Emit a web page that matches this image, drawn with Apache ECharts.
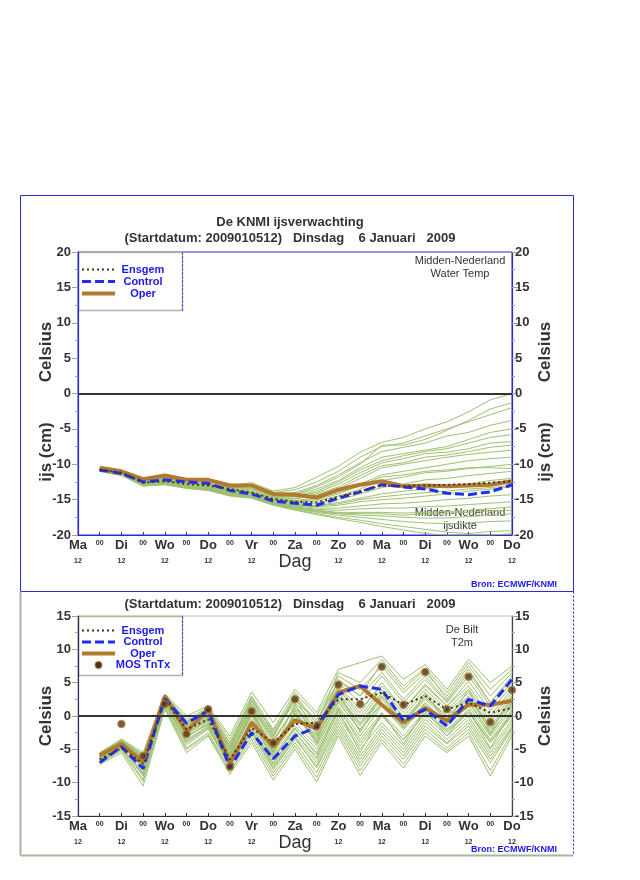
<!DOCTYPE html>
<html><head><meta charset="utf-8">
<script src="https://cdn.jsdelivr.net/npm/echarts@6/dist/echarts.min.js"></script>
<style>html,body{margin:0;padding:0;background:#fff}#c{width:640px;height:880px}</style>
</head><body><div id="c"></div>
<script>
// x categories (12-hourly steps)
const dayLabels = ['Ma','00','Di','00','Wo','00','Do','00','Vr','00','Za','00','Zo','00','Ma','00','Di','00','Wo','00','Do'];
const yTicksTop = [-20,-15,-10,-5,0,5,10,15,20];
const yTicksBottom = [-15,-10,-5,0,5,10,15];

// ---- top chart: ice thickness (values for steps 1..20) ----
const iceEnsgem  = [-10.8,-11.2,-12.6,-12.4,-12.8,-13.0,-13.5,-14.0,-14.9,-15.3,-15.4,-14.6,-13.8,-13.0,-13.1,-13.0,-12.9,-12.8,-12.6,-12.4];
const iceControl = [-10.8,-11.3,-12.5,-12.2,-12.5,-12.7,-13.7,-14.2,-15.2,-15.5,-15.8,-14.8,-13.9,-12.9,-13.2,-13.5,-14.1,-14.3,-13.9,-12.9];
const iceOper    = [-10.5,-11.0,-12.1,-11.6,-12.2,-12.2,-13.0,-13.0,-14.2,-14.3,-14.7,-13.6,-12.9,-12.4,-13.1,-13.0,-13.1,-13.0,-12.9,-12.4];
const iceM01 = [-10.6,-11.0,-12.0,-11.6,-12.1,-12.3,-13.0,-12.6,-13.8,-13.3,-11.8,-10.3,-8.3,-6.9,-6.2,-5.0,-4.0,-2.6,-0.9,0.0];
const iceM02 = [-10.7,-11.1,-12.2,-11.8,-12.3,-12.4,-13.1,-13.0,-14.0,-13.6,-12.5,-11.0,-9.0,-7.5,-7.0,-6.0,-5.0,-4.0,-3.0,-2.0];
const iceM03 = [-10.7,-11.2,-12.3,-11.9,-12.5,-12.6,-13.3,-13.2,-14.2,-14.0,-13.0,-11.5,-9.8,-8.2,-7.6,-7.0,-6.0,-5.5,-4.5,-3.8];
const iceM04 = [-10.8,-11.2,-12.4,-12.0,-12.6,-12.8,-13.5,-13.5,-14.5,-14.3,-13.5,-12.3,-10.5,-9.0,-8.5,-8.0,-7.5,-6.5,-5.5,-5.0];
const iceM05 = [-10.8,-11.3,-12.5,-12.1,-12.7,-12.9,-13.6,-13.8,-14.7,-14.6,-14.0,-12.8,-11.2,-9.8,-9.2,-8.5,-8.3,-7.8,-7.0,-6.8];
const iceM06 = [-10.7,-11.2,-12.4,-12.2,-12.7,-13.0,-13.7,-14.0,-14.9,-14.9,-14.4,-13.5,-12.0,-10.5,-10.0,-9.5,-9.0,-8.6,-8.3,-8.0];
const iceM07 = [-10.8,-11.3,-12.6,-12.3,-12.8,-13.1,-13.8,-14.1,-15.0,-15.1,-14.8,-14.0,-12.8,-11.5,-11.0,-10.5,-10.0,-9.5,-9.2,-9.0];
const iceM08 = [-10.9,-11.4,-12.6,-12.4,-12.9,-13.1,-13.9,-14.2,-15.1,-15.3,-15.2,-14.5,-13.5,-12.3,-11.8,-11.2,-11.0,-10.6,-10.3,-10.0];
const iceM09 = [-10.8,-11.3,-12.7,-12.4,-13.0,-13.2,-14.0,-14.3,-15.2,-15.5,-15.5,-15.0,-14.2,-13.3,-12.8,-12.2,-12.0,-11.6,-11.3,-11.0];
const iceM10 = [-10.9,-11.4,-12.7,-12.5,-13.0,-13.3,-14.1,-14.4,-15.3,-15.6,-15.8,-15.4,-14.8,-14.2,-13.8,-13.5,-13.2,-12.8,-12.3,-12.0];
const iceM11 = [-10.8,-11.4,-12.8,-12.5,-13.1,-13.3,-14.1,-14.4,-15.4,-15.8,-16.0,-15.8,-15.3,-15.0,-14.8,-14.5,-14.2,-13.8,-13.5,-13.2];
const iceM12 = [-10.9,-11.5,-12.8,-12.6,-13.1,-13.4,-14.2,-14.5,-15.5,-15.9,-16.2,-16.2,-15.9,-15.6,-15.5,-15.3,-15.0,-14.8,-14.5,-14.3];
const iceM13 = [-10.9,-11.4,-12.9,-12.7,-13.2,-13.5,-14.2,-14.5,-15.5,-16.0,-16.4,-16.5,-16.3,-16.2,-16.2,-16.0,-15.9,-15.7,-15.5,-15.3];
const iceM14 = [-10.9,-11.5,-12.9,-12.7,-13.2,-13.5,-14.3,-14.6,-15.6,-16.1,-16.5,-16.8,-16.8,-16.8,-16.9,-16.8,-16.7,-16.5,-16.3,-16.0];
const iceM15 = [-11.0,-11.5,-13.0,-12.8,-13.3,-13.6,-14.3,-14.6,-15.6,-16.2,-16.7,-17.0,-17.2,-17.3,-17.5,-17.6,-17.6,-17.4,-17.2,-17.0];
const iceM16 = [-11.0,-11.5,-13.0,-12.8,-13.3,-13.6,-14.4,-14.7,-15.7,-16.3,-16.8,-17.2,-17.5,-17.8,-18.1,-18.3,-18.4,-18.3,-18.1,-18.0];
const iceM17 = [-10.9,-11.5,-13.0,-12.8,-13.4,-13.7,-14.4,-14.7,-15.7,-16.4,-17.0,-17.5,-17.9,-18.4,-18.8,-19.2,-19.6,-19.8,-19.5,-19.4];
const iceM18 = [-11.0,-11.6,-13.1,-12.9,-13.4,-13.7,-14.5,-14.8,-15.8,-16.5,-17.1,-17.7,-18.2,-18.8,-19.3,-19.8,-20.0,-20.0,-20.0,-19.8];
const iceM19 = [-10.7,-11.1,-12.3,-12.0,-12.5,-12.7,-13.3,-13.4,-14.4,-14.2,-13.2,-11.8,-10.0,-7.3,-7.3,-6.5,-5.2,-3.8,-2.2,-1.3];
const iceM20 = [-10.8,-11.3,-12.5,-12.2,-12.7,-12.9,-13.6,-13.9,-14.8,-14.8,-14.2,-13.2,-11.6,-10.2,-9.8,-9.0,-8.7,-8.2,-7.6,-7.3];
const iceM21 = [-10.8,-11.3,-12.6,-12.3,-12.9,-13.1,-13.8,-14.1,-15.0,-15.2,-15.0,-14.2,-13.0,-11.8,-11.5,-11.0,-10.8,-10.5,-10.5,-10.6];
const iceM22 = [-10.9,-11.4,-12.8,-12.5,-13.1,-13.3,-14.1,-14.4,-15.4,-15.7,-15.9,-15.6,-15.0,-14.6,-14.3,-14.0,-13.8,-13.5,-13.3,-13.0];
const iceM23 = [-10.9,-11.5,-12.9,-12.7,-13.2,-13.5,-14.3,-14.6,-15.6,-16.1,-16.6,-16.9,-17.0,-17.0,-17.2,-17.0,-16.9,-16.8,-16.6,-16.5];
const iceM24 = [-10.7,-11.2,-12.4,-12.1,-12.6,-12.8,-13.4,-13.6,-14.6,-14.5,-13.8,-12.5,-10.8,-9.5,-8.8,-8.2,-7.8,-7.0,-6.2,-5.8];
const iceMembers = [iceM01,iceM02,iceM03,iceM04,iceM05,iceM06,iceM07,iceM08,iceM09,iceM10,iceM11,iceM12,iceM13,iceM14,iceM15,iceM16,iceM17,iceM18,iceM19,iceM20,iceM21,iceM22,iceM23,iceM24];

// ---- bottom chart: T2m De Bilt (values for steps 1..20) ----
const t2mEnsgem  = [-6.5,-4.8,-7.2,2.5,-2.0,-0.5,-6.5,-1.8,-4.0,-1.2,-1.0,2.5,2.5,3.5,1.7,3.0,1.0,2.0,0.5,1.2];
const t2mControl = [-7.0,-4.6,-7.9,2.6,-1.1,0.8,-7.8,-2.5,-6.4,-3.0,-1.7,3.2,4.5,4.0,-0.7,1.0,-1.5,2.5,1.5,5.5];
const t2mOper    = [-5.9,-4.2,-6.9,3.0,-2.3,1.0,-7.1,-1.0,-4.6,-0.6,-1.9,3.5,4.5,1.7,-1.0,1.2,-0.7,1.7,1.7,2.3];
const mosTnTx    = [null,-1.2,-6.0,1.8,-2.7,1.0,-7.6,0.7,-4.0,2.5,-1.5,4.7,1.8,7.4,1.7,6.6,1.0,5.9,-0.9,3.9];
const t2mM01 = [-7.3,-5.5,-10.5,1.0,-5.5,-3.0,-8.7,-4.0,-9.6,-5.0,-9.9,-3.0,-8.9,-4.0,-7.8,-3.0,-5.5,-3.0,-9.0,-3.0];
const t2mM02 = [-7.0,-5.0,-9.5,1.5,-4.8,-2.5,-8.0,-3.0,-8.5,-4.0,-8.5,-2.0,-7.5,-3.0,-6.5,-2.0,-4.8,-2.0,-7.0,-2.0];
const t2mM03 = [-6.8,-4.5,-8.8,2.0,-4.0,-1.8,-7.3,-2.0,-7.5,-3.0,-7.0,-0.5,-6.0,-1.5,-5.0,-0.5,-3.5,-0.5,-5.5,-1.0];
const t2mM04 = [-6.5,-4.2,-8.0,2.3,-3.2,-1.0,-6.5,-1.0,-6.5,-2.0,-5.5,0.5,-4.5,0.0,-3.5,0.5,-2.5,0.5,-4.0,0.0];
const t2mM05 = [-6.3,-4.0,-7.5,2.6,-2.5,-0.5,-6.0,0.0,-5.5,-1.0,-4.5,1.5,-3.0,1.5,-2.0,1.5,-1.5,1.5,-3.0,1.0];
const t2mM06 = [-6.0,-3.8,-7.0,2.8,-2.0,0.0,-5.5,0.8,-4.5,0.0,-3.5,2.5,-1.5,2.5,-1.0,2.5,-0.5,2.5,-2.0,2.0];
const t2mM07 = [-5.8,-3.6,-6.5,3.0,-1.5,0.5,-4.8,1.5,-3.5,1.0,-2.5,3.5,-0.5,3.5,0.0,3.5,0.5,3.5,-1.0,3.0];
const t2mM08 = [-5.6,-3.5,-6.0,3.2,-0.8,1.0,-4.0,2.5,-2.5,2.0,-1.5,4.5,1.0,4.5,1.0,4.5,1.5,4.5,0.0,4.0];
const t2mM09 = [-5.5,-3.5,-5.5,3.3,0.0,1.5,-3.0,3.6,-1.0,4.0,0.5,7.0,8.0,9.0,5.5,7.7,4.0,8.5,5.0,7.5];
const t2mM10 = [-6.6,-4.3,-7.8,2.5,-2.8,-0.8,-6.8,-0.5,-6.0,-1.5,-5.0,1.0,-3.5,0.5,-3.0,0.8,-2.0,1.0,-3.5,0.5];
const t2mM11 = [-6.2,-3.9,-7.2,2.7,-2.2,-0.2,-5.8,0.5,-5.0,0.5,-3.0,3.0,-1.0,3.0,-0.5,3.0,0.0,3.0,-1.5,2.5];
const t2mM12 = [-5.9,-3.7,-6.8,2.9,-1.8,0.3,-5.2,1.2,-4.0,1.5,-2.0,4.0,0.0,4.0,0.5,4.0,1.0,4.0,-0.5,3.5];
const t2mM13 = [-6.0,-3.8,-6.2,3.1,-1.0,0.8,-4.5,2.0,-3.0,2.5,-1.0,5.0,2.0,6.0,2.0,5.5,2.0,6.0,1.5,5.0];
const t2mM14 = [-5.7,-3.6,-5.8,3.2,-0.5,1.2,-3.5,3.0,-2.0,3.5,0.0,6.0,4.0,7.5,3.5,6.5,3.0,7.5,3.0,6.5];
const t2mM15 = [-6.9,-4.8,-9.0,1.8,-4.3,-2.0,-7.6,-2.5,-8.0,-3.5,-7.5,-1.0,-6.5,-2.0,-5.5,-1.0,-4.0,-1.0,-6.0,-1.5];
const t2mM16 = [-6.4,-4.1,-7.6,2.4,-3.0,-1.3,-6.3,-1.5,-7.0,-2.5,-6.5,0.0,-5.0,-1.0,-4.5,0.0,-3.0,0.0,-5.0,-0.5];
const t2mM17 = [-5.8,-3.7,-6.6,2.9,-1.2,0.6,-5.0,1.8,-3.2,2.8,-2.8,5.5,3.0,8.0,4.0,7.0,2.5,7.0,2.0,6.0];
const t2mM18 = [-6.1,-3.9,-7.0,2.6,-2.4,0.2,-6.2,0.2,-5.8,0.8,-4.0,2.0,-2.0,2.0,-1.5,2.0,-1.0,2.0,-2.5,1.5];
const t2mM19 = [-7.1,-5.2,-9.8,1.2,-5.0,-2.8,-8.3,-3.5,-9.0,-4.5,-9.2,-2.5,-8.2,-3.5,-7.2,-2.5,-5.2,-2.5,-8.2,-2.5];
const t2mM20 = [-6.7,-4.6,-8.5,2.1,-3.6,-1.5,-7.0,-1.5,-7.2,-2.5,-6.2,0.8,-5.5,0.5,-4.2,1.0,-3.0,1.0,-4.8,0.8];
const t2mM21 = [-6.2,-4.0,-7.3,2.6,-2.6,-0.6,-6.0,1.0,-5.2,1.8,-3.8,3.8,-2.5,3.5,-1.8,3.5,-1.0,4.0,-2.5,3.0];
const t2mM22 = [-5.9,-3.7,-6.4,3.0,-1.4,0.7,-4.6,2.8,-2.8,3.2,-1.2,6.5,5.0,8.5,4.5,7.2,3.5,8.0,4.0,7.0];
const t2mM23 = [-6.0,-3.9,-6.9,2.7,-2.1,0.1,-5.6,0.4,-4.6,0.2,-3.2,2.8,-1.2,2.8,-0.8,2.8,-0.2,2.8,-1.8,2.2];
const t2mM24 = [-6.4,-4.2,-7.9,2.4,-3.1,-1.2,-6.6,-0.8,-6.3,-1.8,-5.8,1.2,-4.0,0.2,-3.6,0.4,-2.2,0.6,-3.8,0.2];
const t2mM25 = [-5.7,-3.6,-6.1,3.1,-0.9,1.1,-4.2,2.2,-2.2,2.6,-0.6,5.2,3.0,6.5,2.5,6.0,2.2,6.5,2.0,5.5];
const t2mM26 = [-6.8,-4.7,-8.6,2.0,-3.8,-1.6,-7.4,-2.2,-7.8,-3.2,-7.8,-1.5,-7.0,-2.5,-6.0,-1.5,-4.2,-1.5,-6.5,-1.8];
const t2mM27 = [-6.1,-3.8,-6.6,2.9,-1.7,0.4,-5.0,1.4,-3.6,1.2,-2.2,4.2,0.5,5.0,1.0,4.8,1.5,5.2,0.8,4.5];
const t2mM28 = [-6.3,-4.1,-7.4,2.5,-2.6,-0.3,-6.4,0.6,-5.4,0.4,-4.2,2.2,-2.2,1.8,-1.8,1.8,-1.2,2.2,-2.8,1.8];
const t2mMembers = [t2mM01,t2mM02,t2mM03,t2mM04,t2mM05,t2mM06,t2mM07,t2mM08,t2mM09,t2mM10,t2mM11,t2mM12,t2mM13,t2mM14,
  t2mM15,t2mM16,t2mM17,t2mM18,t2mM19,t2mM20,t2mM21,t2mM22,t2mM23,t2mM24,t2mM25,t2mM26,t2mM27,t2mM28];

// ---- styling ----
const GREEN = '#9fc070', BROWN = '#b27a2e', BLUE = '#1f2ff0', DOT = '#4a3418', TXT = '#333333';
const FONT = '"Liberation Sans", Arial, sans-serif';
const full = a => [null].concat(a);
const cats = dayLabels.map((d, i) => i + ':' + d);

function xAxisFor(gi, lineColor) {
  return {
    type: 'category', gridIndex: gi, data: cats, boundaryGap: false,
    axisLine: { onZero: false, lineStyle: { color: lineColor, width: 1.2 } },
    axisTick: { inside: true, length: 3, interval: 0, lineStyle: { color: lineColor } },
    axisLabel: {
      interval: 0, margin: 3, fontFamily: FONT,
      formatter: (v, i) => (i % 2 === 0) ? ('{d|' + dayLabels[i] + '}' + (i === 10 ? '' : '\n{s|12}')) : '{z|00}',
      rich: {
        d: { fontSize: 13, fontWeight: 'bold', color: TXT, lineHeight: 14, fontFamily: FONT },
        s: { fontSize: 7, fontWeight: 'bold', color: TXT, lineHeight: 18, fontFamily: FONT },
        z: { fontSize: 7, fontWeight: 'bold', color: TXT, lineHeight: 10, fontFamily: FONT }
      }
    },
    splitLine: { show: false }
  };
}
function yAxisFor(gi, pos, min, max, lineColor) {
  return {
    type: 'value', gridIndex: gi, position: pos, min: min, max: max, interval: 5,
    axisLine: { show: true, onZero: false, lineStyle: { color: lineColor, width: 1.2 } },
    axisTick: { show: true, length: 6, lineStyle: { color: '#9aa88a' } },
    minorTick: { show: true, splitNumber: 2, length: 3, lineStyle: { color: '#9aa88a' } },
    axisLabel: { fontSize: 13, fontWeight: 'bold', color: TXT, fontFamily: FONT, margin: pos === 'left' ? 7 : 3 },
    splitLine: { show: false }
  };
}

const series = [];
iceMembers.forEach((m, k) => series.push({
  type: 'line', name: 'ice member ' + (k + 1), xAxisIndex: 0, yAxisIndex: 0, data: full(m),
  symbol: 'none', silent: true, lineStyle: { color: GREEN, width: 1 }, z: 2
}));
t2mMembers.forEach((m, k) => series.push({
  type: 'line', name: 't2m member ' + (k + 1), xAxisIndex: 1, yAxisIndex: 2, data: full(m),
  symbol: 'none', silent: true, lineStyle: { color: GREEN, width: 1 }, z: 2
}));
function mainLines(xi, yi, ens, ctl, op) {
  series.push({ type: 'line', name: 'Oper', xAxisIndex: xi, yAxisIndex: yi, data: full(op), symbol: 'none',
    lineStyle: { color: BROWN, width: 4 }, itemStyle: { color: BROWN }, z: 4,
    markLine: { silent: true, symbol: 'none', label: { show: false },
      lineStyle: { color: '#333', width: 2, type: 'solid' }, data: [{ yAxis: 0 }] } });
  series.push({ type: 'line', name: 'Control', xAxisIndex: xi, yAxisIndex: yi, data: full(ctl), symbol: 'none',
    lineStyle: { color: BLUE, width: 3, type: [9, 4] }, itemStyle: { color: BLUE }, z: 5 });
  series.push({ type: 'line', name: 'Ensgem', xAxisIndex: xi, yAxisIndex: yi, data: full(ens), symbol: 'none',
    lineStyle: { color: DOT, width: 2, type: [2, 3] }, itemStyle: { color: DOT }, z: 6 });
}
mainLines(0, 0, iceEnsgem, iceControl, iceOper);
mainLines(1, 2, t2mEnsgem, t2mControl, t2mOper);
series.push({ type: 'scatter', name: 'MOS TnTx', xAxisIndex: 1, yAxisIndex: 2, data: full(mosTnTx),
  symbol: 'circle', symbolSize: 7, itemStyle: { color: '#4e3216', borderColor: '#a8783a', borderWidth: 1.5 }, z: 7 });

const legendText = {
  formatter: n => '{a|' + n + '}',
  lineStyle: { width: 'inherit' },
  textStyle: { rich: { a: { width: 46, align: 'center', color: '#1a1ae8', fontWeight: 'bold', fontSize: 11, lineHeight: 11, fontFamily: FONT } } }
};
const noSym = (n, w) => ({ name: n, itemStyle: { opacity: 0 }, lineStyle: { width: w } });
const mosItem = { name: 'MOS TnTx', icon: 'circle', itemStyle: { opacity: 1, color: '#4e3216', borderColor: '#a8783a', borderWidth: 1 } };

const T = (x, y, text, opts) => Object.assign({ type: 'text', x: x, y: y, silent: true,
  style: Object.assign({ text: text, fill: TXT, font: 'bold 13px ' + FONT, textAlign: 'center', textVerticalAlign: 'middle' }, opts || {}) });
const R = (x, y, text, size) => ({ type: 'text', x: x, y: y, rotation: Math.PI / 2, silent: true,
  style: { text: text, fill: TXT, font: 'bold ' + (size || 17) + 'px ' + FONT, textAlign: 'center', textVerticalAlign: 'middle' } });

const chart = echarts.init(document.getElementById('c'), null, { renderer: 'canvas' });
chart.setOption({
  animation: false,
  backgroundColor: '#ffffff',
  grid: [
    { left: 78, top: 252, width: 434, height: 283, show: true, borderColor: '#2a2ad0', borderWidth: 1, backgroundColor: 'transparent' },
    { left: 78, top: 616, width: 434, height: 200, show: true, borderColor: '#b8c4b0', borderWidth: 1, backgroundColor: 'transparent' }
  ],
  xAxis: [xAxisFor(0, '#2a2ad0'), xAxisFor(1, '#333333')],
  yAxis: [
    yAxisFor(0, 'left', -20, 20, '#2a2ad0'), yAxisFor(0, 'right', -20, 20, '#2a2ad0'),
    yAxisFor(1, 'left', -15, 15, '#2a2a60'), yAxisFor(1, 'right', -15, 15, '#444444')
  ],
  legend: [
    Object.assign({ left: 80, top: 264, orient: 'vertical', itemWidth: 33, itemHeight: 7, itemGap: 1, padding: 0,
      data: [noSym('Ensgem', 2), noSym('Control', 3), noSym('Oper', 4)] }, legendText),
    Object.assign({ left: 80, top: 625, orient: 'vertical', itemWidth: 33, itemHeight: 7, itemGap: 0.5, padding: 0,
      data: [noSym('Ensgem', 2), noSym('Control', 3), noSym('Oper', 4), mosItem] }, legendText)
  ],
  graphic: [
    // frames
    { type: 'rect', silent: true, shape: { x: 20.5, y: 195.5, width: 553, height: 396 }, style: { fill: 'none', stroke: '#2a2ad8', lineWidth: 1 } },
    { type: 'line', silent: true, shape: { x1: 20.5, y1: 591.5, x2: 20.5, y2: 855.5 }, style: { stroke: '#a8b4a0', lineWidth: 2 } },
    { type: 'line', silent: true, shape: { x1: 20.5, y1: 855.5, x2: 573.5, y2: 855.5 }, style: { stroke: '#a8b4a0', lineWidth: 2 } },
    { type: 'line', silent: true, shape: { x1: 573.5, y1: 591.5, x2: 573.5, y2: 855.5 }, style: { stroke: '#2a2ad8', lineWidth: 1, lineDash: [2, 2] } },
    // legend boxes
    { type: 'rect', silent: true, shape: { x: 78.5, y: 252.5, width: 104, height: 58 }, style: { fill: 'none', stroke: '#aab8a0', lineWidth: 1.5 } },
    { type: 'line', silent: true, shape: { x1: 182.5, y1: 252.5, x2: 182.5, y2: 310.5 }, style: { stroke: '#2a2ad8', lineWidth: 1, lineDash: [2, 2] } },
    { type: 'rect', silent: true, shape: { x: 78.5, y: 616.5, width: 104, height: 59 }, style: { fill: 'none', stroke: '#aab8a0', lineWidth: 1.5 } },
    { type: 'line', silent: true, shape: { x1: 182.5, y1: 616.5, x2: 182.5, y2: 675.5 }, style: { stroke: '#2a2ad8', lineWidth: 1, lineDash: [2, 2] } },
    // titles
    T(290, 222, 'De KNMI ijsverwachting'),
    T(290, 238, '(Startdatum: 2009010512)   Dinsdag    6 Januari   2009'),
    T(290, 604, '(Startdatum: 2009010512)   Dinsdag    6 Januari   2009'),
    // station labels
    T(460, 261, 'Midden-Nederland', { font: '11px ' + FONT }),
    T(460, 274, 'Water Temp', { font: '11px ' + FONT }),
    T(460, 513, 'Midden-Nederland', { font: '11px ' + FONT }),
    T(460, 526, 'ijsdikte', { font: '11px ' + FONT }),
    T(462, 630, 'De Bilt', { font: '11px ' + FONT }),
    T(462, 643, 'T2m', { font: '11px ' + FONT }),
    // x axis names
    T(295, 562, 'Dag', { font: '18px ' + FONT }),
    T(295, 843, 'Dag', { font: '18px ' + FONT }),
    // source
    T(557, 585, 'Bron: ECMWF/KNMI', { font: 'bold 9px ' + FONT, fill: '#1a1ae8', textAlign: 'right' }),
    T(557, 850, 'Bron: ECMWF/KNMI', { font: 'bold 9px ' + FONT, fill: '#1a1ae8', textAlign: 'right' }),
    // y axis names
    R(46, 352, 'Celsius'), R(46, 452, 'ijs (cm)'),
    R(545, 352, 'Celsius'), R(545, 452, 'ijs (cm)'),
    R(46, 716, 'Celsius'), R(545, 716, 'Celsius')
  ],
  series: series
});
</script>
</body></html>
